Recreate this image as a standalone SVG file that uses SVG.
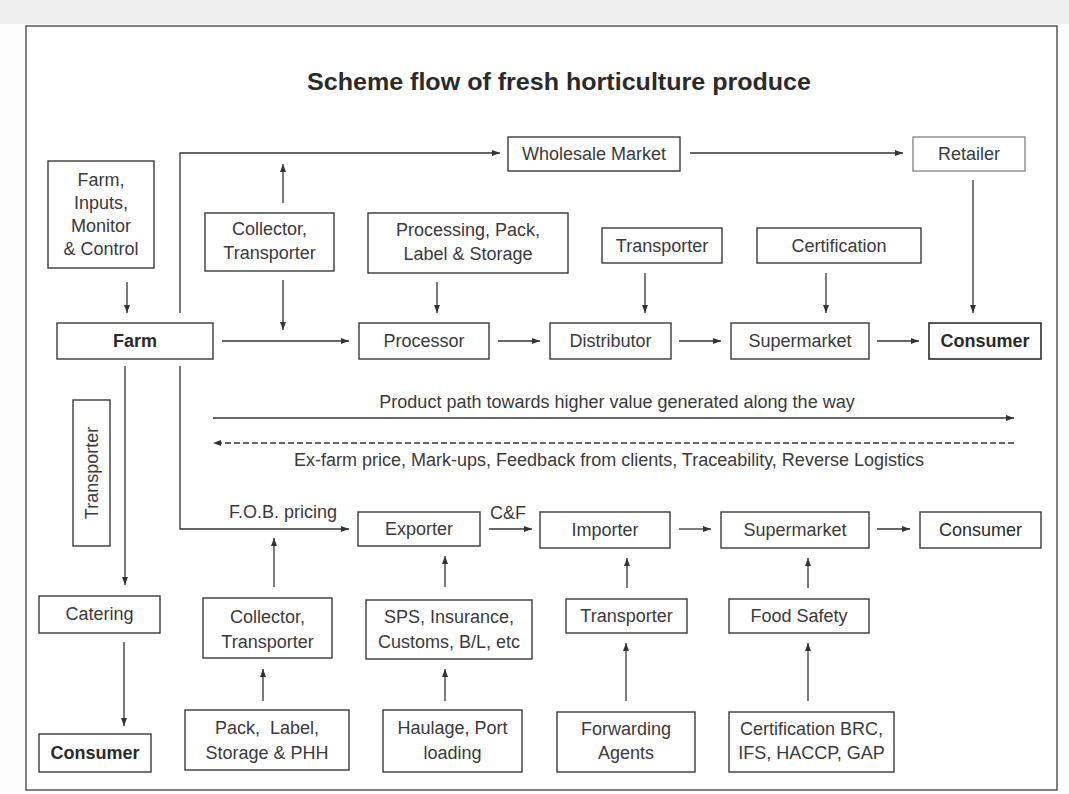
<svg xmlns="http://www.w3.org/2000/svg" width="1069" height="794" viewBox="0 0 1069 794">
<style>
.bx{fill:#fff;stroke:#3a3a3a;stroke-width:1.4}
.lt{stroke:#8a8a8a}
.t{font-family:"Liberation Sans",Arial,sans-serif;font-size:18px;fill:#3a3a3a;text-anchor:middle}
.b{font-weight:bold;fill:#2a2a2a}
.c{fill:none;stroke:#333;stroke-width:1.3;marker-end:url(#ah)}
</style>
<defs>
<marker id="ah" viewBox="0 0 8 6" refX="8" refY="3" markerWidth="8" markerHeight="6" markerUnits="userSpaceOnUse" orient="auto"><path d="M0,0 L8,3 L0,6 z" fill="#333"/></marker>
</defs>
<rect x="0" y="0" width="1069" height="794" fill="#fdfdfd"/>
<rect x="0" y="0" width="1069" height="24" fill="#efefef"/>
<rect x="26" y="26" width="1031" height="764" fill="#fff" stroke="#555" stroke-width="1.5"/>
<text x="559" y="90" class="t b" style="font-size:24px" textLength="504" lengthAdjust="spacingAndGlyphs">Scheme flow of fresh horticulture produce</text>

<g id="connectors">
<path class="c" d="M127 282 V313"/>
<path class="c" d="M180 313 V153 H500"/>
<path class="c" d="M283 203 V164"/>
<path class="c" d="M283 280 V330"/>
<path class="c" d="M437 282 V313"/>
<path class="c" d="M222 341 H349"/>
<path class="c" d="M498 341 H540"/>
<path class="c" d="M679 341 H721"/>
<path class="c" d="M877 341 H919"/>
<path class="c" d="M690 153 H903"/>
<path class="c" d="M973 180 V313"/>
<path class="c" d="M645 273 V313"/>
<path class="c" d="M826 273 V313"/>
<path class="c" d="M125 366 V585"/>
<path class="c" d="M180 366 V529 H349"/>
<path class="c" d="M213 418 H1014"/>
<path class="c" d="M1014 443 H213" stroke-dasharray="6 3"/>
<path class="c" d="M489 529 H532"/>
<path class="c" d="M679 529 H711"/>
<path class="c" d="M877 529 H910"/>
<path class="c" d="M274 587 V538"/>
<path class="c" d="M445 587 V556"/>
<path class="c" d="M627 588 V558"/>
<path class="c" d="M808 588 V558"/>
<path class="c" d="M124 642 V726"/>
<path class="c" d="M263 701 V669"/>
<path class="c" d="M445 701 V669"/>
<path class="c" d="M626 701 V643"/>
<path class="c" d="M808 701 V643"/>
<text x="617" y="408" class="t">Product path towards higher value generated along the way</text>
<text x="609" y="466" class="t">Ex-farm price, Mark-ups, Feedback from clients, Traceability, Reverse Logistics</text>
<text x="283" y="518" class="t">F.O.B. pricing</text>
<text x="508" y="519" class="t">C&amp;F</text>
</g>

<g id="wholesale"><rect class="bx" x="508" y="137" width="172" height="34"/><text x="594" y="160" class="t">Wholesale Market</text></g>
<g id="retailer"><rect class="bx lt" x="913" y="137" width="112" height="34"/><text x="969" y="160" class="t">Retailer</text></g>
<g id="farm-inputs"><rect class="bx" x="48" y="161" width="106" height="107"/><text class="t" x="101" y="186">Farm,</text><text class="t" x="101" y="209">Inputs,</text><text class="t" x="101" y="232">Monitor</text><text class="t" x="101" y="255">&amp; Control</text></g>
<g id="collector-top"><rect class="bx" x="205" y="213" width="129" height="58"/><text class="t" x="269.5" y="235">Collector,</text><text class="t" x="269.5" y="259">Transporter</text></g>
<g id="processing"><rect class="bx" x="368" y="213" width="200" height="60"/><text class="t" x="468" y="236">Processing, Pack,</text><text class="t" x="468" y="260">Label &amp; Storage</text></g>
<g id="transporter-top"><rect class="bx" x="602" y="228" width="120" height="35"/><text class="t" x="662" y="252">Transporter</text></g>
<g id="certification"><rect class="bx" x="757" y="228" width="164" height="35"/><text class="t" x="839" y="252">Certification</text></g>
<g id="farm"><rect class="bx" x="57" y="323" width="156" height="36"/><text class="t b" x="135" y="347">Farm</text></g>
<g id="processor"><rect class="bx" x="359" y="323" width="130" height="36"/><text class="t" x="424" y="347">Processor</text></g>
<g id="distributor"><rect class="bx" x="550" y="323" width="121" height="36"/><text class="t" x="610.5" y="347">Distributor</text></g>
<g id="supermarket-top"><rect class="bx" x="731" y="323" width="138" height="36"/><text class="t" x="800" y="347">Supermarket</text></g>
<g id="consumer-top"><rect class="bx" x="929" y="323" width="112" height="36" style="stroke-width:1.7"/><text class="t b" x="985" y="347">Consumer</text></g>
<g id="transporter-side"><rect class="bx" x="73" y="400" width="37" height="146"/><text class="t" transform="translate(92 473) rotate(-90)" x="0" y="6">Transporter</text></g>
<g id="exporter"><rect class="bx" x="358" y="512" width="122" height="34"/><text class="t" x="419" y="535">Exporter</text></g>
<g id="importer"><rect class="bx" x="540" y="512" width="130" height="36"/><text class="t" x="605" y="536">Importer</text></g>
<g id="supermarket-bottom"><rect class="bx" x="721" y="512" width="148" height="36"/><text class="t" x="795" y="536">Supermarket</text></g>
<g id="consumer-bottom"><rect class="bx" x="920" y="512" width="121" height="36"/><text class="t" x="980.5" y="536" style="fill:#2a2a2a">Consumer</text></g>
<g id="catering"><rect class="bx" x="39" y="596" width="121" height="37"/><text class="t" x="99.5" y="620">Catering</text></g>
<g id="collector-bottom"><rect class="bx" x="203" y="598" width="129" height="60"/><text class="t" x="267.5" y="623">Collector,</text><text class="t" x="267.5" y="648">Transporter</text></g>
<g id="sps"><rect class="bx" x="366" y="600" width="166" height="59"/><text class="t" x="449" y="623">SPS, Insurance,</text><text class="t" x="449" y="648">Customs, B/L, etc</text></g>
<g id="transporter-bottom"><rect class="bx" x="566" y="599" width="121" height="34"/><text class="t" x="626.5" y="622">Transporter</text></g>
<g id="food-safety"><rect class="bx" x="729" y="599" width="140" height="34"/><text class="t" x="799" y="622">Food Safety</text></g>
<g id="consumer-left"><rect class="bx" x="39" y="734" width="112" height="38"/><text class="t b" x="95" y="759">Consumer</text></g>
<g id="pack"><rect class="bx" x="185" y="710" width="164" height="60"/><text class="t" x="267" y="734" xml:space="preserve">Pack,  Label,</text><text class="t" x="267" y="759">Storage &amp; PHH</text></g>
<g id="haulage"><rect class="bx" x="383" y="710" width="139" height="62"/><text class="t" x="452.5" y="734">Haulage, Port</text><text class="t" x="452.5" y="759">loading</text></g>
<g id="forwarding"><rect class="bx" x="557" y="712" width="138" height="60"/><text class="t" x="626" y="735">Forwarding</text><text class="t" x="626" y="759">Agents</text></g>
<g id="cert-brc"><rect class="bx" x="729" y="712" width="165" height="60"/><text class="t" x="811.5" y="735">Certification BRC,</text><text class="t" x="811.5" y="759">IFS, HACCP, GAP</text></g>
</svg>
